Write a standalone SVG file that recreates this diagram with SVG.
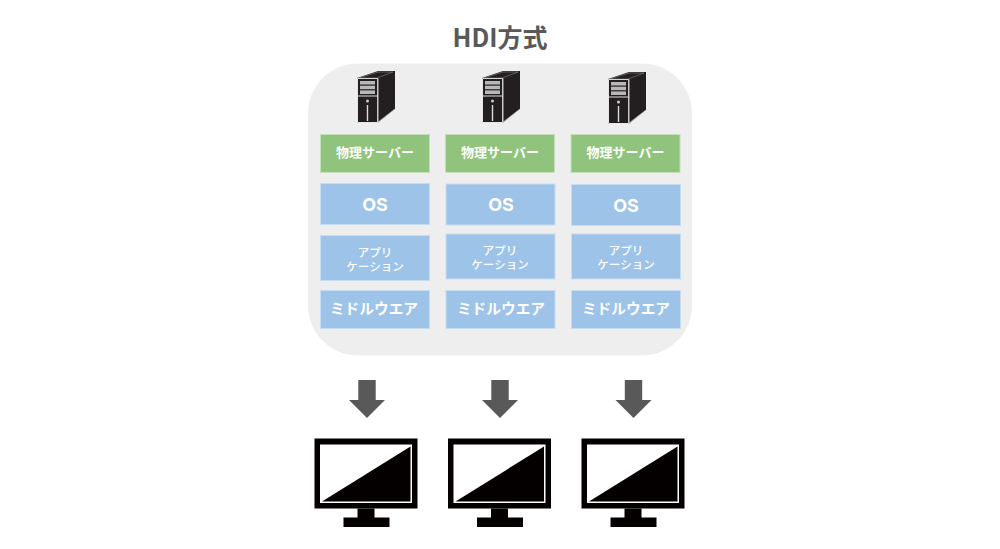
<svg xmlns="http://www.w3.org/2000/svg" xmlns:xlink="http://www.w3.org/1999/xlink" width="1000" height="549" viewBox="0 0 1000 549">
<style>
text{font-family:"Noto Sans CJK JP","Open Sans",sans-serif;font-weight:700;fill:#fff;text-anchor:middle}
.g{fill:#90c47c;stroke:#c4dfba;stroke-width:1}
.b{fill:#9dc3e8;stroke:#c6dcf1;stroke-width:1}
.t13{font-size:13px}
.os{font-size:18px;font-family:Inter,"Noto Sans CJK JP",sans-serif;font-weight:700}
.ap{font-size:11.500px;font-weight:500}
.mw{font-size:14.700px}
</style>
<defs>
<g id="server">
<path d="M0 7L21 0H38V38L21 51.500H0Z" fill="#231f20"/>
<path d="M0.500 7.500H20.700V51.500H0.500Z" fill="#231f20" stroke="#e6e6e6" stroke-width="1"/>
<path d="M2 7L21 1H36L20 7Z" fill="#231f20" stroke="#9a9a9a" stroke-width="0.500"/>
<path d="M21 7.500V51L38 38" stroke="#ddd" stroke-width="0.600" fill="none"/>
<rect x="1" y="24.500" width="19.500" height="1" fill="#ddd"/>
<rect x="3" y="10" width="15" height="3.500" fill="#b8b8b8"/>
<rect x="3" y="14.700" width="15" height="3.500" fill="#b8b8b8"/>
<rect x="3" y="19.400" width="15" height="3.600" fill="#b8b8b8"/>
<circle cx="10.500" cy="30" r="1.500" fill="#ccc"/>
<rect x="9.800" y="34" width="1.400" height="16" fill="#ddd"/>
</g>
<path id="arrow" d="M-8.700 0H8.700V20H18L0 38L-18 20H-8.700Z" fill="#595959"/>
<g id="monitor">
<rect x="0" y="0" width="103" height="70" fill="#040000"/>
<rect x="5.500" y="6" width="92" height="58.500" fill="#fff"/>
<path d="M7.500 63L96 8V63Z" fill="#040000"/>
<path d="M43 70H60V79H75V88.500H29V79H43Z" fill="#040000"/>
</g>
</defs>
<text x="500" y="47" style="font-size:25px;fill:#595959;font-family:'Noto Sans CJK JP',sans-serif">HDI方式</text>
<rect id="panel" x="308" y="63.500" width="384" height="292" rx="50" ry="50" fill="#eeeeee"/>
<g id="servers">
<use xlink:href="#server" href="#server" x="357" y="71"/>
<use xlink:href="#server" href="#server" x="482" y="71"/>
<use xlink:href="#server" href="#server" x="608" y="72"/>
</g>
<g id="col1">
<g id="n1a"><rect class="g" x="320.500" y="134.500" width="109" height="38"/><text class="t13" x="375" y="157">物理サーバー</text></g>
<g id="n1b"><rect class="b" x="320.500" y="183.500" width="109" height="41"/><text class="os" x="375" y="210.500">OS</text></g>
<g id="n1c"><rect class="b" x="320.500" y="235.500" width="109" height="45"/><text class="ap" x="375" y="257">アプリ</text><text class="ap" x="375" y="271">ケーション</text></g>
<g id="n1d"><rect class="b" x="320.500" y="290.500" width="109" height="38"/><text class="mw" x="374" y="314">ミドルウエア</text></g>
</g>
<g id="col2">
<g id="n2a"><rect class="g" x="445.500" y="134.500" width="109" height="38"/><text class="t13" x="500" y="157">物理サーバー</text></g>
<g id="n2b"><rect class="b" x="446" y="184" width="109" height="41"/><text class="os" x="501" y="210.500">OS</text></g>
<g id="n2c"><rect class="b" x="446" y="234" width="109" height="45"/><text class="ap" x="500" y="255">アプリ</text><text class="ap" x="500" y="269">ケーション</text></g>
<g id="n2d"><rect class="b" x="446" y="290.500" width="109" height="38"/><text class="mw" x="501" y="314">ミドルウエア</text></g>
</g>
<g id="col3">
<g id="n3a"><rect class="g" x="571" y="134.500" width="109" height="38"/><text class="t13" x="625.500" y="157">物理サーバー</text></g>
<g id="n3b"><rect class="b" x="571.500" y="184.500" width="109" height="41"/><text class="os" x="626" y="211.500">OS</text></g>
<g id="n3c"><rect class="b" x="571.500" y="234" width="109" height="45"/><text class="ap" x="626" y="255">アプリ</text><text class="ap" x="626" y="269">ケーション</text></g>
<g id="n3d"><rect class="b" x="571.500" y="290.500" width="109" height="38"/><text class="mw" x="626" y="314">ミドルウエア</text></g>
</g>
<g id="connectors">
<use xlink:href="#arrow" href="#arrow" x="367" y="380"/>
<use xlink:href="#arrow" href="#arrow" x="500" y="380"/>
<use xlink:href="#arrow" href="#arrow" x="633.500" y="380"/>
</g>
<g id="monitors">
<use xlink:href="#monitor" href="#monitor" x="314.500" y="438.500"/>
<use xlink:href="#monitor" href="#monitor" x="448" y="438.500"/>
<use xlink:href="#monitor" href="#monitor" x="581.500" y="438.500"/>
</g>
</svg>
